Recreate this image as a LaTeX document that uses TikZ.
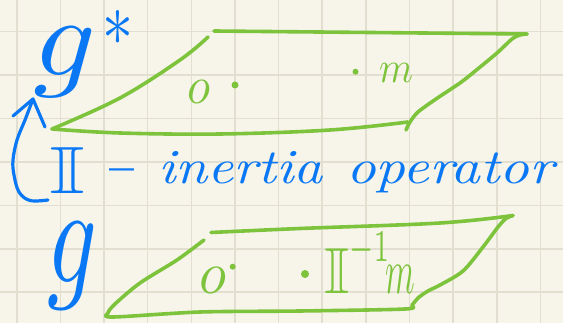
\documentclass[tikz,border=0pt]{standalone}
\usepackage{amssymb}
\usepackage{graphicx}
\definecolor{paper}{RGB}{247,245,234}
\definecolor{gridc}{RGB}{226,222,208}
\definecolor{pgreen}{RGB}{125,195,60}
\definecolor{pblue}{RGB}{10,120,245}
\begin{document}
\begin{tikzpicture}[x=1pt,y=-1pt,
  gridline/.style={draw=gridc, line width=1.6pt},
  plane/.style={draw=pgreen, line width=3.6pt, line cap=round, line join=round},
  pen/.style={draw=pblue, line width=3.2pt, line cap=round, line join=round},
  gtxt/.style={text=pgreen, inner sep=0pt, outer sep=0pt},
  btxt/.style={text=pblue, inner sep=0pt, outer sep=0pt},
  gdot/.style={fill=pgreen, circle, inner sep=0pt}]
\fill[paper] (0,0) rectangle (563,323);
\useasboundingbox (0,0) rectangle (563,323);
\foreach \i in {0,...,12} \draw[gridline] ({16.7+43.65*\i},0) -- ({16.7+43.65*\i},323);
\foreach \j in {0,...,6} \draw[gridline] (0,{31.6+43.45*\j}) -- (563,{31.6+43.45*\j});

% upper plane (g*)
\draw[plane] (214,31) -- (527,34);
\draw[plane] plot[smooth, tension=0.6] coordinates {(208,37) (180,60) (120,98) (52,129)};
\draw[plane] plot[smooth, tension=0.6] coordinates {(52,129) (120,133) (220,134) (330,130) (408,122)};
\draw[plane] plot[smooth, tension=0.5] coordinates {(406,130) (410,122) (418,112) (436,99) (460,83) (474,72) (497,53) (512,39) (520,35) (527,34)};

% lower plane (g)
\draw[plane] plot[smooth, tension=0.6] coordinates {(211,232.5) (300,228.5) (440,223) (513,215.5)};
\draw[plane] plot[smooth, tension=0.5] coordinates {(204,240) (177,260) (140,283) (115,304) (108,313) (113,317) (200,312) (300,311) (405,309) (412,305) (418,298) (428,291) (440,285) (463,271) (483,247) (498,227) (506,218.5) (513,215.5)};

% points in planes
\node[gtxt, anchor=north west] (o1) at (187,80) {\resizebox*{23pt}{23pt}{$o$}};
\node[gdot, minimum size=7pt] (d1) at (235,85) {};
\node[gdot, minimum size=6pt] (d2) at (355.5,71.7) {};
\node[gtxt, anchor=north west] (m1) at (379,63) {\resizebox*{34pt}{19pt}{$m$}};
\node[gtxt, anchor=north west] (o2) at (199,267) {\resizebox*{27pt}{26pt}{$o$}};
\node[gdot, minimum size=6pt] (d3) at (232.7,266.7) {};
\node[gdot, minimum size=8pt] (d4) at (305,274) {};
\node[gtxt, anchor=base west] (m2) at (324,294) {\scalebox{6.5}{$\mathbb{I}^{\raisebox{1.3pt}{\scalebox{0.6}[1]{$\scriptstyle -1$}}}\mkern-2mu\scalebox{0.52}[1]{$m$}$}};

% labels
\node[btxt, anchor=base west] (gs) at (34,76) {\resizebox*{63pt}{70pt}{$g$}\kern5pt\raisebox{30pt}{\resizebox*{31pt}{35pt}{$\ast$}}};
\node[btxt, anchor=base west] (g) at (47,283) {\resizebox*{50pt}{87pt}{$g$}};
\node[btxt, anchor=north west] (II) at (49,147) {\resizebox*{36pt}{46pt}{$\mathbb{I}$}};
\node[btxt, anchor=base west] (dash) at (109,197) {\scalebox{5}[10]{--}};
\node[btxt, anchor=base west] (w1) at (158,184) {\scalebox{5.69}[4.9]{\itshape inertia}};
\node[btxt, anchor=base west] (w2) at (346,184) {\scalebox{5.82}[4.9]{\itshape operator}};

% arrow
\coordinate (tip) at (33,99);
\coordinate (tail) at (48,200);
\draw[pen] plot[smooth, tension=0.6] coordinates {(48,200) (30,200.5) (19,192) (14,175) (13,160) (17,140) (25,120) (33,99)};
\draw[pen] (13,116) -- (tip) -- (45,127);
\end{tikzpicture}
\end{document}
